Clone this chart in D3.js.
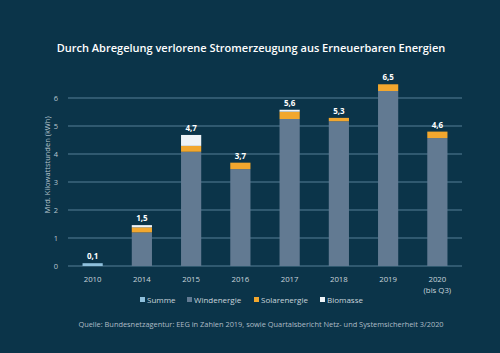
<!DOCTYPE html>
<html><head><meta charset="utf-8">
<script src="https://cdn.jsdelivr.net/npm/d3@7"></script>
<style>html,body{margin:0;padding:0;background:#0b3449;}svg{display:block;}</style>
</head><body>
<svg id="c" width="500" height="353"></svg>
<script>
const years = ["2010","2014","2015","2016","2017","2018","2019","2020"];
const summe = [0.1, 0, 0, 0, 0, 0, 0, 0];
const wind = [0, 1.2, 4.08, 3.46, 5.25, 5.17, 6.25, 4.57];
const solar = [0, 0.18, 0.21, 0.23, 0.26, 0.12, 0.24, 0.23];
const biomasse = [0, 0.08, 0.39, 0, 0.07, 0, 0, 0];
const totalLabels = ["0,1","1,5","4,7","3,7","5,6","5,3","6,5","4,6"];
const yTicks = [0,1,2,3,4,5,6];
const seriesNames = ["Summe","Windenergie","Solarenergie","Biomasse"];
const colors = {Summe:"#8fc0dc", Windenergie:"#627a92", Solarenergie:"#f2a72e", Biomasse:"#eef3f7"};

const svg = d3.select("#c");
const font = "'Open Sans', sans-serif";
svg.append("rect").attr("width",500).attr("height",353).attr("fill","#0b3449");

const x = d3.scaleBand().domain(years).range([68,462]).paddingInner(0.59).paddingOuter(0.295);
const y = d3.scaleLinear().domain([0,6]).range([266,98]);

// grid
svg.append("g").selectAll("line").data(yTicks).join("line")
  .attr("x1",68).attr("x2",462).attr("y1",d=>y(d)).attr("y2",d=>y(d))
  .attr("stroke","#6a93ab").attr("stroke-width",0.8);

// y tick labels
svg.append("g").selectAll("text").data(yTicks).join("text")
  .attr("x",56).attr("y",d=>y(d)).attr("dy","0.35em").attr("text-anchor","middle")
  .attr("fill","#b9c7d1").attr("font-family",font).attr("font-size",7.5).text(d=>d);

// y axis title
svg.append("text").attr("transform","translate(50,165) rotate(-90)")
  .attr("text-anchor","middle").attr("fill","#b9c7d1").attr("font-family",font)
  .attr("font-size",7.5).text("Mrd. Kilowattstunden (kWh)");

// stacks
const rows = years.map((yr,i)=>({year:yr, Summe:summe[i], Windenergie:wind[i], Solarenergie:solar[i], Biomasse:biomasse[i]}));
const stack = d3.stack().keys(seriesNames)(rows);
svg.append("g").selectAll("g").data(stack).join("g").attr("fill",d=>colors[d.key])
  .selectAll("rect").data(d=>d).join("rect")
  .attr("x",d=>x(d.data.year)).attr("width",x.bandwidth())
  .attr("y",d=>y(d[1])).attr("height",d=>Math.max(0,y(d[0])-y(d[1])));

// total labels
const tops = rows.map(r=>seriesNames.reduce((s,k)=>s+r[k],0));
svg.append("g").selectAll("text").data(years).join("text")
  .attr("x",d=>x(d)+x.bandwidth()/2).attr("y",(d,i)=>y(tops[i])-4)
  .attr("text-anchor","middle").attr("fill","#ffffff").attr("font-family",font)
  .attr("font-weight","bold").attr("font-size",8).text((d,i)=>totalLabels[i]);

// x labels
svg.append("g").selectAll("text").data(years).join("text")
  .attr("x",d=>x(d)+x.bandwidth()/2).attr("y",282).attr("text-anchor","middle")
  .attr("fill","#c9d4dc").attr("font-family",font).attr("font-size",7.8).text(d=>d);
svg.append("text").attr("x",x("2020")+x.bandwidth()/2).attr("y",293).attr("text-anchor","middle")
  .attr("fill","#c9d4dc").attr("font-family",font).attr("font-size",7.8).text("(bis Q3)");

// legend
const legX = [140,187,254,320];
const lg = svg.append("g").selectAll("g").data(seriesNames).join("g")
  .attr("transform",(d,i)=>`translate(${legX[i]},300)`);
lg.append("rect").attr("x",0).attr("y",-3).attr("width",5).attr("height",5).attr("fill",d=>colors[d]);
lg.append("text").attr("x",7).attr("y",0).attr("dy","0.35em").attr("fill","#c9d4dc")
  .attr("font-family",font).attr("font-size",8).text(d=>d);

// title
svg.append("text").attr("x",251).attr("y",52).attr("text-anchor","middle")
  .attr("fill","#ffffff").attr("font-family",font).attr("font-weight","600")
  .attr("font-size",11).text("Durch Abregelung verlorene Stromerzeugung aus Erneuerbaren Energien");

// source
svg.append("text").attr("x",261).attr("y",327).attr("text-anchor","middle")
  .attr("fill","#aebcc6").attr("font-family",font).attr("font-size",7.4)
  .text("Quelle: Bundesnetzagentur: EEG in Zahlen 2019, sowie Quartalsbericht Netz- und Systemsicherheit 3/2020");
</script>
</body></html>
